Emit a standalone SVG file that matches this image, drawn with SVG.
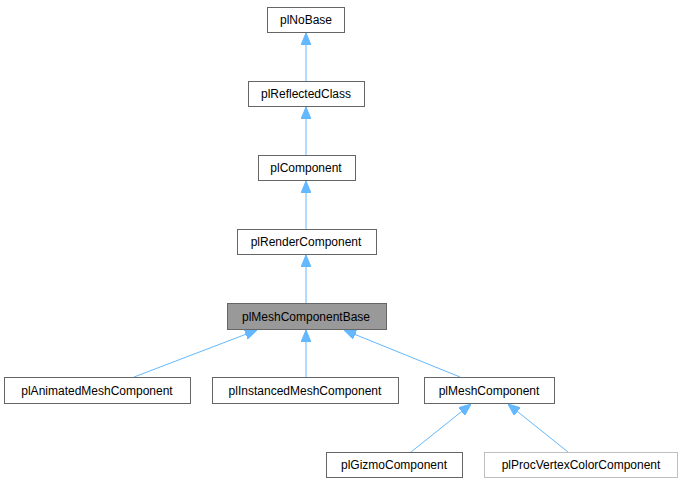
<svg xmlns="http://www.w3.org/2000/svg" width="683" height="485" viewBox="0 0 683 485">
<style>
.n{fill:#fff;stroke:#666;stroke-width:1}
.t{font-family:"Liberation Sans",Arial,sans-serif;font-size:12px;fill:#000;text-anchor:middle}
.e{stroke:#63b8ff;stroke-width:1;fill:none;marker-start:url(#a)}
</style>
<defs><marker id="a" viewBox="0 0 12 10" refX="0" refY="5" markerWidth="12" markerHeight="10" orient="auto" markerUnits="userSpaceOnUse"><path d="M12,0 L0,5 L12,10 z" fill="#63b8ff" stroke="#63b8ff"/></marker></defs>
<rect width="683" height="485" fill="#fff"/>
<g id="connectors">
<path class="e" d="M306,33 V81"/>
<path class="e" d="M306,107 V155"/>
<path class="e" d="M306,181 V229"/>
<path class="e" d="M306,255 V303"/>
<path class="e" d="M257,330 L134,377"/>
<path class="e" d="M306,330 V377"/>
<path class="e" d="M344,330 L460,377"/>
<path class="e" d="M471,404 L411,452"/>
<path class="e" d="M508,404 L568,452"/>
</g>
<g id="plNoBase"><rect class="n" x="267.5" y="7.5" width="77" height="25"/><text class="t" x="306" y="24">plNoBase</text></g>
<g id="plReflectedClass"><rect class="n" x="248.5" y="81.5" width="116" height="25"/><text class="t" x="306" y="98">plReflectedClass</text></g>
<g id="plComponent"><rect class="n" x="258.5" y="155.5" width="97" height="25"/><text class="t" x="306" y="172">plComponent</text></g>
<g id="plRenderComponent"><rect class="n" x="237.5" y="229.5" width="139" height="25"/><text class="t" x="306" y="246">plRenderComponent</text></g>
<g id="plMeshComponentBase"><rect class="n" x="227.5" y="303.5" width="159" height="26" fill="#999" style="fill:#999"/><text class="t" x="306" y="321">plMeshComponentBase</text></g>
<g id="plAnimatedMeshComponent"><rect class="n" x="4.5" y="377.5" width="186" height="26"/><text class="t" x="97" y="395">plAnimatedMeshComponent</text></g>
<g id="plInstancedMeshComponent"><rect class="n" x="212.5" y="377.5" width="186" height="26"/><text class="t" x="305" y="395">plInstancedMeshComponent</text></g>
<g id="plMeshComponent"><rect class="n" x="424.5" y="377.5" width="130" height="26"/><text class="t" x="489" y="395">plMeshComponent</text></g>
<g id="plGizmoComponent"><rect class="n" x="326.5" y="452.5" width="136" height="25"/><text class="t" x="394" y="469">plGizmoComponent</text></g>
<g id="plProcVertexColorComponent"><rect class="n" x="484.5" y="452.5" width="193" height="25" style="stroke:#bfbfbf"/><text class="t" x="581" y="469">plProcVertexColorComponent</text></g>
</svg>
